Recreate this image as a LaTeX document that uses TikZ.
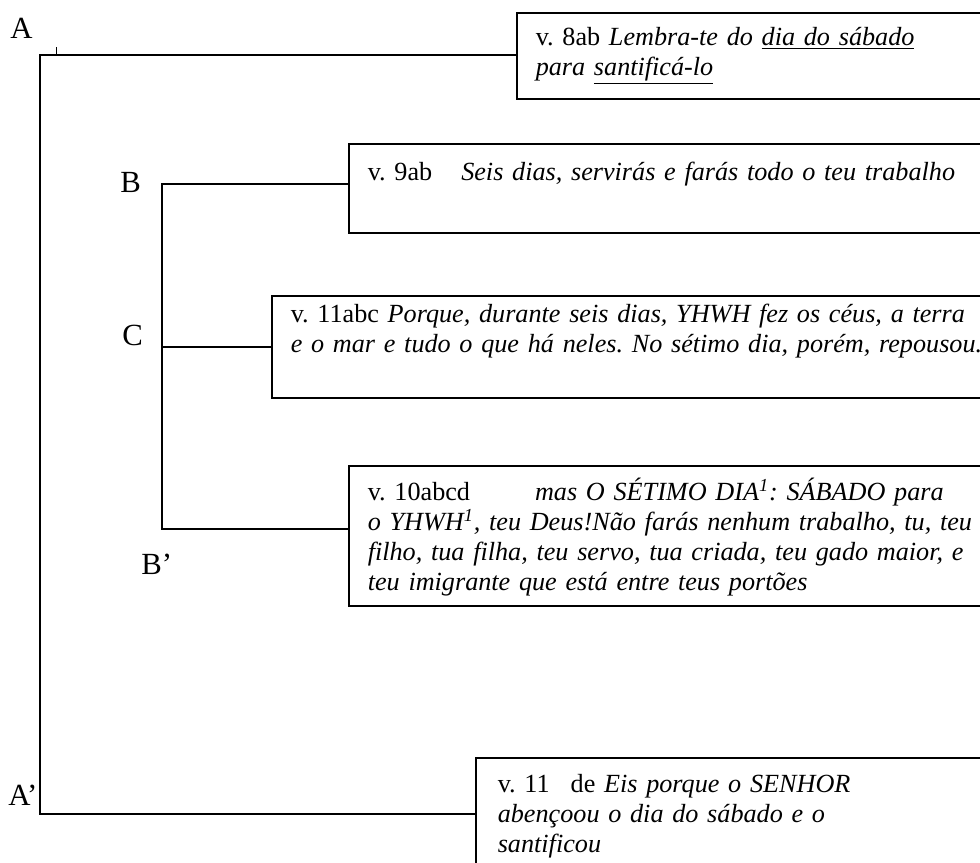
\documentclass[tikz,border=0pt]{standalone}
\usepackage{fontspec}
\setmainfont{Liberation Serif}
\usepackage{tikz}
\usetikzlibrary{calc}
\frenchspacing
\tikzstyle{link} = [line width = 0.9pt]
\tikzstyle{verse} = [draw, line width = 0.9pt, anchor = north west, align = left, inner xsep = 3.8mm, inner ysep = 0pt, text width = 170mm]

\begin{document}
\begin{tikzpicture}[
x=0.2mm, y=-0.2mm,
font=\fontsize{14.9}{17}\selectfont,
letter/.style={font=\fontsize{17.5}{20}\selectfont,anchor=base west,inner sep=0pt}]
\useasboundingbox (0,0) rectangle (980,862);

\node[verse, text height=6.6mm, text depth=10.6mm] (v8) at (516,12)
{v. 8ab \textit{Lembra-te do \underline{dia do sábado}}\\ \textit{para \underline{santificá-lo}}};
\node[verse, text height=7.4mm, text depth=10.4mm] (v9) at (348,143)
{v. 9ab\hspace{5.8mm}\textit{Seis dias, servirás e farás todo o teu trabalho}};
\node[verse, text height=5.4mm, text depth=15mm] (v11abc) at (271,295)
{v. 11abc \textit{Porque, durante seis dias, YHWH fez os céus, a terra}\\ \textit{e o mar e tudo o que há neles. No sétimo dia, porém, repousou.}};
\node[verse, text height=7mm, text depth=21mm] (v10) at (348,465)
{v. 10abcd\hspace{13mm}\textit{mas O SÉTIMO DIA\textsuperscript{1}: SÁBADO para}\\
\textit{o YHWH\textsuperscript{1}, teu Deus!Não farás nenhum trabalho, tu, teu}\\
\textit{filho, tua filha, teu servo, tua criada, teu gado maior, e}\\
\textit{teu imigrante que está entre teus portões}};
\node[verse, inner xsep=4.4mm, text height=7mm, text depth=15.4mm] (v11de) at (475,757)
{v. 11\hspace{4.2mm}de \textit{Eis porque o SENHOR}\\ \textit{abençoou o dia do sábado e o}\\ \textit{santificou}};

\node[letter] (A) at (10,38) {A};
\node[letter] (B) at (120,192) {B};
\node[letter] (C) at (122,345) {C};
\node[letter] (B2) at (141,574) {B’};
\node[letter] (A2) at (8,805) {A’};

\coordinate (cornerA) at (40,55);
\coordinate (cornerA2) at (40,814);
\coordinate (spineB) at (162,184);
\coordinate (spineC) at (162,347);
\coordinate (spineB2) at (162,529);
\coordinate (tick) at (56,55);

\draw[link] (cornerA -| v8.west) -- (cornerA) -- (cornerA2) -- (cornerA2 -| v11de.west);
\draw[link] (spineB -| v9.west) -- (spineB) -- (spineB2) -- (spineB2 -| v10.west);
\draw[link] (spineC) -- (spineC -| v11abc.west);
\draw[line width=0.5pt] (tick) -- ++(0,-8);
\end{tikzpicture}
\end{document}
